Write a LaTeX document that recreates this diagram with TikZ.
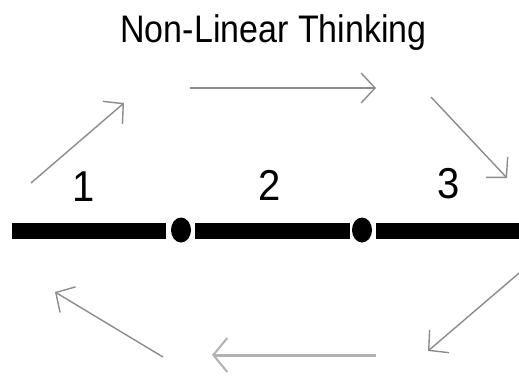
\documentclass[tikz,border=0pt]{standalone}
\usepackage{fontspec}
\setmainfont{Liberation Sans}
\usetikzlibrary{arrows.meta,shapes.geometric}
\begin{document}
\begin{tikzpicture}[x=1pt,y=-1pt,
  flow/.style={draw=black!45,line width=1.4pt,-{Straight Barb[length=14pt,width=30pt,line width=1.4pt]}},
  flowthick/.style={draw=black!30,line width=3pt,-{Straight Barb[length=14pt,width=34pt,line width=2pt]}},
  bar/.style={line width=16pt,line cap=butt,black},
  joint/.style={ellipse,fill=black,minimum width=20pt,minimum height=25pt,inner sep=0pt},
  num/.style={font=\fontsize{40}{40}\selectfont,inner sep=0pt,anchor=base}]
\useasboundingbox (0,0) rectangle (519,375);
\node[font=\fontsize{34}{34}\selectfont,inner sep=0pt,anchor=base] (title) at (273.5,42) {\scalebox{1}[1.13]{Non-Linear Thinking}};
\node[num] (n1) at (84,201) {\scalebox{1}[1.08]{1}};
\node[num] (n2) at (270,200) {\scalebox{1}[1.08]{2}};
\node[num] (n3) at (449,198) {\scalebox{1}[1.08]{3}};
\coordinate (b0) at (12,231);
\coordinate (b1) at (166,231);
\node[joint] (d1) at (181,230) {};
\coordinate (b2) at (195,231);
\coordinate (b3) at (350,231);
\node[joint] (d2) at (362,230) {};
\coordinate (b4) at (376,231);
\coordinate (b5) at (530,231);
\draw[bar] (b0) -- (b1);
\draw[bar] (b2) -- (b3);
\draw[bar] (b4) -- (b5);
\coordinate (a1s) at (31,183); \coordinate (a1e) at (124,103);
\coordinate (a2s) at (190,88); \coordinate (a2e) at (376,88);
\coordinate (a3s) at (431,97); \coordinate (a3e) at (507,178);
\coordinate (a4s) at (525,268); \coordinate (a4e) at (428,351);
\coordinate (a5s) at (376,355); \coordinate (a5e) at (212,355);
\coordinate (a6s) at (163,357); \coordinate (a6e) at (55,292);
\draw[flow] (a1s) -- (a1e);
\draw[flow] (a2s) -- (a2e);
\draw[flow] (a3s) -- (a3e);
\draw[flow] (a4s) -- (a4e);
\draw[flowthick] (a5s) -- (a5e);
\draw[flow] (a6s) -- (a6e);
\end{tikzpicture}
\end{document}
